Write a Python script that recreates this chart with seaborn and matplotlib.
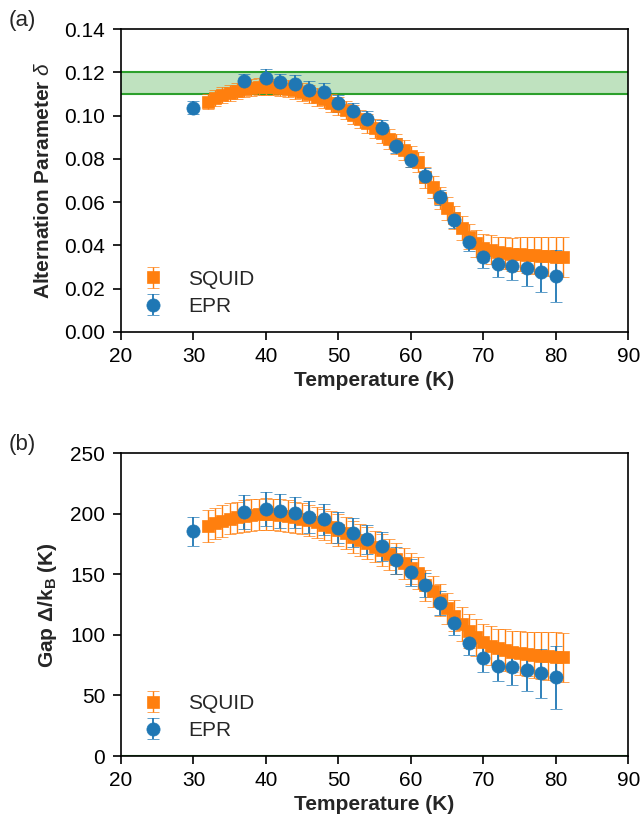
import numpy as np
import matplotlib
matplotlib.use("Agg")
import matplotlib.pyplot as plt
import seaborn as sns

# EPR data (every 2 K, plus 30 and 37 K)
epr_T = [30, 37, 40, 42, 44, 46, 48, 50, 52, 54, 56, 58, 60, 62, 64, 66, 68, 70, 72, 74, 76, 78, 80]
epr_delta = [0.1037, 0.1160, 0.1175, 0.1154, 0.1148, 0.1121, 0.1109, 0.1057, 0.1024, 0.0984, 0.0943,
             0.0861, 0.0795, 0.0722, 0.0622, 0.0517, 0.0417, 0.0348, 0.0314, 0.0306, 0.0294, 0.0276, 0.0259]
epr_delta_err = [0.0030, 0.0035, 0.0042, 0.0040, 0.0040, 0.0040, 0.0040, 0.0038, 0.0037, 0.0036, 0.0035,
                 0.0034, 0.0034, 0.0034, 0.0035, 0.0037, 0.0042, 0.0050, 0.0058, 0.0066, 0.0080, 0.0090, 0.0120]
epr_gap = [185.7, 201.7, 204.2, 202.0, 201.0, 197.3, 195.4, 188.5, 184.3, 178.8, 173.2,
           161.6, 151.7, 141.5, 126.3, 109.7, 93.1, 81.2, 74.6, 73.7, 71.0, 68.2, 64.9]
epr_gap_err = [12, 14, 14, 14, 13, 13, 13, 13, 12, 12, 12,
               11, 11, 10, 10, 10, 10, 12, 13, 15, 17, 20, 26]

# SQUID data (every 1 K from 32 to 81 K)
squid_T = list(range(32, 82))
squid_delta = [0.1065, 0.1080, 0.1095, 0.1105, 0.1115, 0.1125, 0.1130, 0.1135, 0.1135, 0.1133,
               0.1130, 0.1125, 0.1118, 0.1110, 0.1100, 0.1088, 0.1075, 0.1060, 0.1043, 0.1025,
               0.1005, 0.0985, 0.0965, 0.0942, 0.0918, 0.0893, 0.0868, 0.0840, 0.0812, 0.0785,
               0.0715, 0.0670, 0.0620, 0.0572, 0.0528, 0.0482, 0.0440, 0.0410, 0.0390, 0.0380,
               0.0370, 0.0365, 0.0360, 0.0360, 0.0357, 0.0355, 0.0352, 0.0350, 0.0348, 0.0347]
squid_delta_err = [0.0036, 0.0037, 0.0037, 0.0038, 0.0038, 0.0038, 0.0039, 0.0039, 0.0039, 0.0039,
                   0.0040, 0.0040, 0.0040, 0.0040, 0.0041, 0.0041, 0.0041, 0.0042, 0.0042, 0.0042,
                   0.0043, 0.0043, 0.0044, 0.0044, 0.0045, 0.0045, 0.0046, 0.0046, 0.0047, 0.0047,
                   0.0048, 0.0049, 0.0050, 0.0052, 0.0054, 0.0056, 0.0058, 0.0061, 0.0064, 0.0067,
                   0.0070, 0.0073, 0.0076, 0.0079, 0.0082, 0.0085, 0.0087, 0.0089, 0.0091, 0.0093]
squid_gap = [190, 192, 194, 196, 197, 198, 199, 199.5, 200, 199.5,
             199, 198, 197, 196, 194.5, 193, 191, 189, 186.5, 184,
             181, 178.5, 176, 173, 170, 166.5, 163, 159, 155, 151,
             141, 136, 129, 122, 116, 109, 103, 98, 94, 91,
             89, 87.5, 86, 85, 84, 83.5, 83, 82.5, 82, 81.5]
squid_gap_err = [13, 13, 13, 13, 13, 13, 13, 13, 13, 13,
                 13, 13, 13, 13, 13, 13, 13, 13, 13, 13,
                 13, 13, 13, 13, 13, 13, 13, 13, 13, 13,
                 13, 13, 13, 13, 13, 14, 14, 15, 15, 16,
                 16, 17, 17, 18, 18, 19, 19, 20, 20, 20]

# literature band for delta
band_lo, band_hi = 0.11, 0.12

sns.set_style("ticks")
plt.rcParams['font.family'] = ['Liberation Sans', 'DejaVu Sans']
plt.rcParams['mathtext.fontset'] = 'custom'
plt.rcParams['mathtext.rm'] = 'Liberation Sans'
plt.rcParams['mathtext.it'] = 'Liberation Sans:italic'
plt.rcParams['mathtext.bf'] = 'Liberation Sans:bold'

pal = sns.color_palette("tab10")
blue, orange, green = pal[0], pal[1], pal[2]

fig = plt.figure(figsize=(6.42, 8.25), dpi=100)
ax1 = fig.add_axes([0.1885, 0.5976, 0.790, 0.367])
ax2 = fig.add_axes([0.1885, 0.0836, 0.790, 0.367])


def draw(ax, sy, sye, ey, eye):
    ax.errorbar(squid_T, sy, yerr=sye, fmt='s', color=orange, ms=8, mec=orange, mew=0.5,
                ecolor=orange, elinewidth=1, capsize=4, capthick=1, label='SQUID')
    ax.errorbar(epr_T, ey, yerr=eye, fmt='o', color=blue, ms=9.5, mec=blue, mew=0.5,
                ecolor=blue, elinewidth=1.3, capsize=4, capthick=1.3, label='EPR')
    ax.set_xlim(20, 90)
    ax.set_xticks(np.arange(20, 91, 10))
    ax.set_xlabel("Temperature (K)", fontsize=15, fontweight='bold', labelpad=4)
    for s in ax.spines.values():
        s.set_linewidth(1.2)
        s.set_color('black')
    ax.tick_params(direction='out', length=5.5, width=1.2, labelsize=15, colors='black', pad=6)
    ax.tick_params(axis='x', pad=5)
    ax.legend(loc='lower left', frameon=False, fontsize=15, bbox_to_anchor=(0.005, 0.025),
              handletextpad=0.7, borderaxespad=0, labelspacing=0.4)


ax1.axhspan(band_lo, band_hi, color=green, alpha=0.3, lw=0, zorder=0)
ax1.axhline(band_lo, color=green, lw=1.5, zorder=0.5)
ax1.axhline(band_hi, color=green, lw=1.5, zorder=0.5)
draw(ax1, squid_delta, squid_delta_err, epr_delta, epr_delta_err)
ax1.set_ylim(0, 0.14)
ax1.set_yticks(np.arange(0, 0.141, 0.02))
ax1.yaxis.set_major_formatter(matplotlib.ticker.FormatStrFormatter('%.2f'))
ax1.set_ylabel(r"Alternation Parameter $\delta$", fontsize=15, fontweight='bold', labelpad=8)
ax1.text(-0.222, 1.03, "(a)", transform=ax1.transAxes, fontsize=16, va='center')

ax2.axhline(0, color=green, lw=1.5, zorder=0.5)
draw(ax2, squid_gap, squid_gap_err, epr_gap, epr_gap_err)
ax2.set_ylim(0, 250)
ax2.set_yticks(np.arange(0, 251, 50))
ax2.set_ylabel(r"Gap $\mathbf{\Delta}$/k$_\mathbf{B}$ (K)", fontsize=15, fontweight='bold', labelpad=8)
ax2.text(-0.222, 1.03, "(b)", transform=ax2.transAxes, fontsize=16, va='center')

fig.savefig("out.png", dpi=100)
